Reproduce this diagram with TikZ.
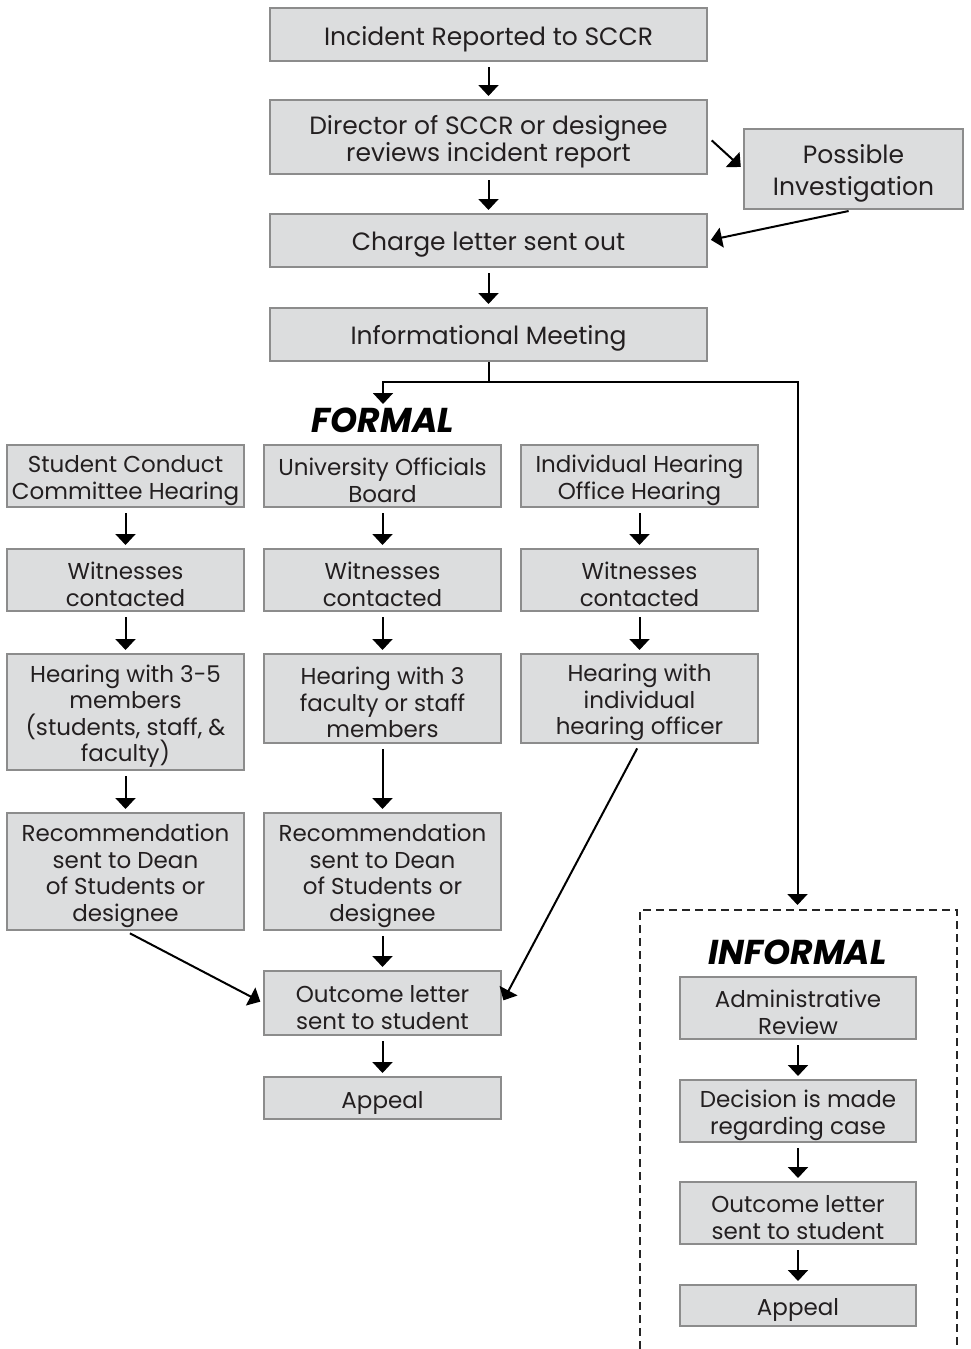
\documentclass[tikz,border=0pt]{standalone}
\usepackage{fontspec}
\setmainfont{Poppins}
\usetikzlibrary{arrows.meta}
\definecolor{boxfill}{HTML}{DCDDDE}
\definecolor{boxline}{HTML}{8C8C8C}
\definecolor{ink}{HTML}{231F20}
\tikzset{
  stepbox/.style={draw=boxline, fill=boxfill, line width=2pt, text=ink, align=flush center,
    inner sep=0pt, text width=237pt, text height=26pt, font=\fontsize{23}{26.5}\selectfont},
  wide/.style={stepbox, text width=437pt, text height=27.5pt, font=\fontsize{25}{27}\selectfont},
  arr/.style={-{Triangle[width=20pt,length=11pt]}, line width=2pt, black},
  stack/.style={arr, shorten <=5pt, shorten >=3pt},
  heading/.style={font=\fontsize{34.5}{36}\selectfont\bfseries\itshape, text=black},
  dashbox/.style={line width=2pt, dash pattern=on 8pt off 5pt, black!85},
}
\begin{document}
\begin{tikzpicture}[x=1pt, y=-1pt]
\useasboundingbox (0,0) rectangle (971,1349);
% main line
\node[wide, minimum height=53pt] (incident) at (488.5,34.5) {Incident Reported to SCCR};
\node[wide, minimum height=74pt] (director) at (488.5,137) {Director of SCCR or designee\\reviews incident report};
\node[wide, text width=219pt, minimum height=80pt, font=\fontsize{25}{32}\selectfont] (possible) at (853.5,169) {Possible\\Investigation};
\node[wide, minimum height=53pt] (charge) at (488.5,240.5) {Charge letter sent out};
\node[wide, minimum height=53pt] (meeting) at (488.5,334.5) {Informational Meeting};
\draw[stack] (incident) -- (director);
\draw[stack] (director) -- (charge);
\draw[stack] (charge) -- (meeting);
\draw[stack] (director.east) -- (possible.west);
\draw[stack] (possible.south) -- (charge.east);
% split
\coordinate (split) at (488.5,382);
\coordinate (formaltip) at (383,404);
\coordinate (infotop) at (797.5,905);
\node[heading] (formal) at (383,420) {FORMAL};
\draw[arr] (meeting.south) -- (split) -| (formaltip);
\draw[arr] (split) -| (infotop);
% formal columns
\node[stepbox, minimum height=62pt] (sch) at (125.5,476) {Student Conduct\\Committee Hearing};
\node[stepbox, minimum height=62pt] (uob) at (382.5,476) {University Officials\\Board};
\node[stepbox, minimum height=62pt] (iho) at (639.5,476) {Individual Hearing\\Office Hearing};
\node[stepbox, minimum height=62pt] (wit1) at (125.5,580) {Witnesses\\contacted};
\node[stepbox, minimum height=62pt] (wit2) at (382.5,580) {Witnesses\\contacted};
\node[stepbox, minimum height=62pt] (wit3) at (639.5,580) {Witnesses\\contacted};
\node[stepbox, minimum height=116pt] (hear1) at (125.5,712) {Hearing with 3-5\\members\\(students, staff, \&\\faculty)};
\node[stepbox, minimum height=89pt] (hear2) at (382.5,698.5) {Hearing with 3\\faculty or staff\\members};
\node[stepbox, minimum height=89pt] (hear3) at (639.5,698.5) {Hearing with\\individual\\hearing officer};
\node[stepbox, minimum height=117pt] (rec1) at (125.5,871.5) {Recommendation\\sent to Dean\\of Students or\\designee};
\node[stepbox, minimum height=117pt] (rec2) at (382.5,871.5) {Recommendation\\sent to Dean\\of Students or\\designee};
\node[stepbox, minimum height=64pt] (outcome) at (382.5,1003) {Outcome letter\\sent to student};
\node[stepbox, minimum height=42pt] (appeal) at (382.5,1098) {Appeal};
\foreach \a/\b in {sch/wit1, uob/wit2, iho/wit3, wit1/hear1, wit2/hear2, wit3/hear3,
  hear1/rec1, hear2/rec2, rec2/outcome, outcome/appeal}
  \draw[stack] (\a) -- (\b);
\draw[stack] (rec1.south) -- (outcome.west);
\draw[stack] (hear3.south) -- (outcome.east);
% informal
\draw[dashbox] (640,1349) |- (957,910) -- (957,1349);
\node[heading] (informal) at (797.5,952) {INFORMAL};
\node[stepbox, text width=236pt, minimum height=62pt] (review) at (798,1008) {Administrative\\Review};
\node[stepbox, text width=236pt, minimum height=62pt] (decision) at (798,1111) {Decision is made\\regarding case};
\node[stepbox, text width=236pt, minimum height=62pt] (letter) at (798,1213) {Outcome letter\\sent to student};
\node[stepbox, text width=236pt, minimum height=41pt] (appeal2) at (798,1305.5) {Appeal};
\draw[stack] (review) -- (decision);
\draw[stack] (decision) -- (letter);
\draw[stack] (letter) -- (appeal2);
\end{tikzpicture}
\end{document}
